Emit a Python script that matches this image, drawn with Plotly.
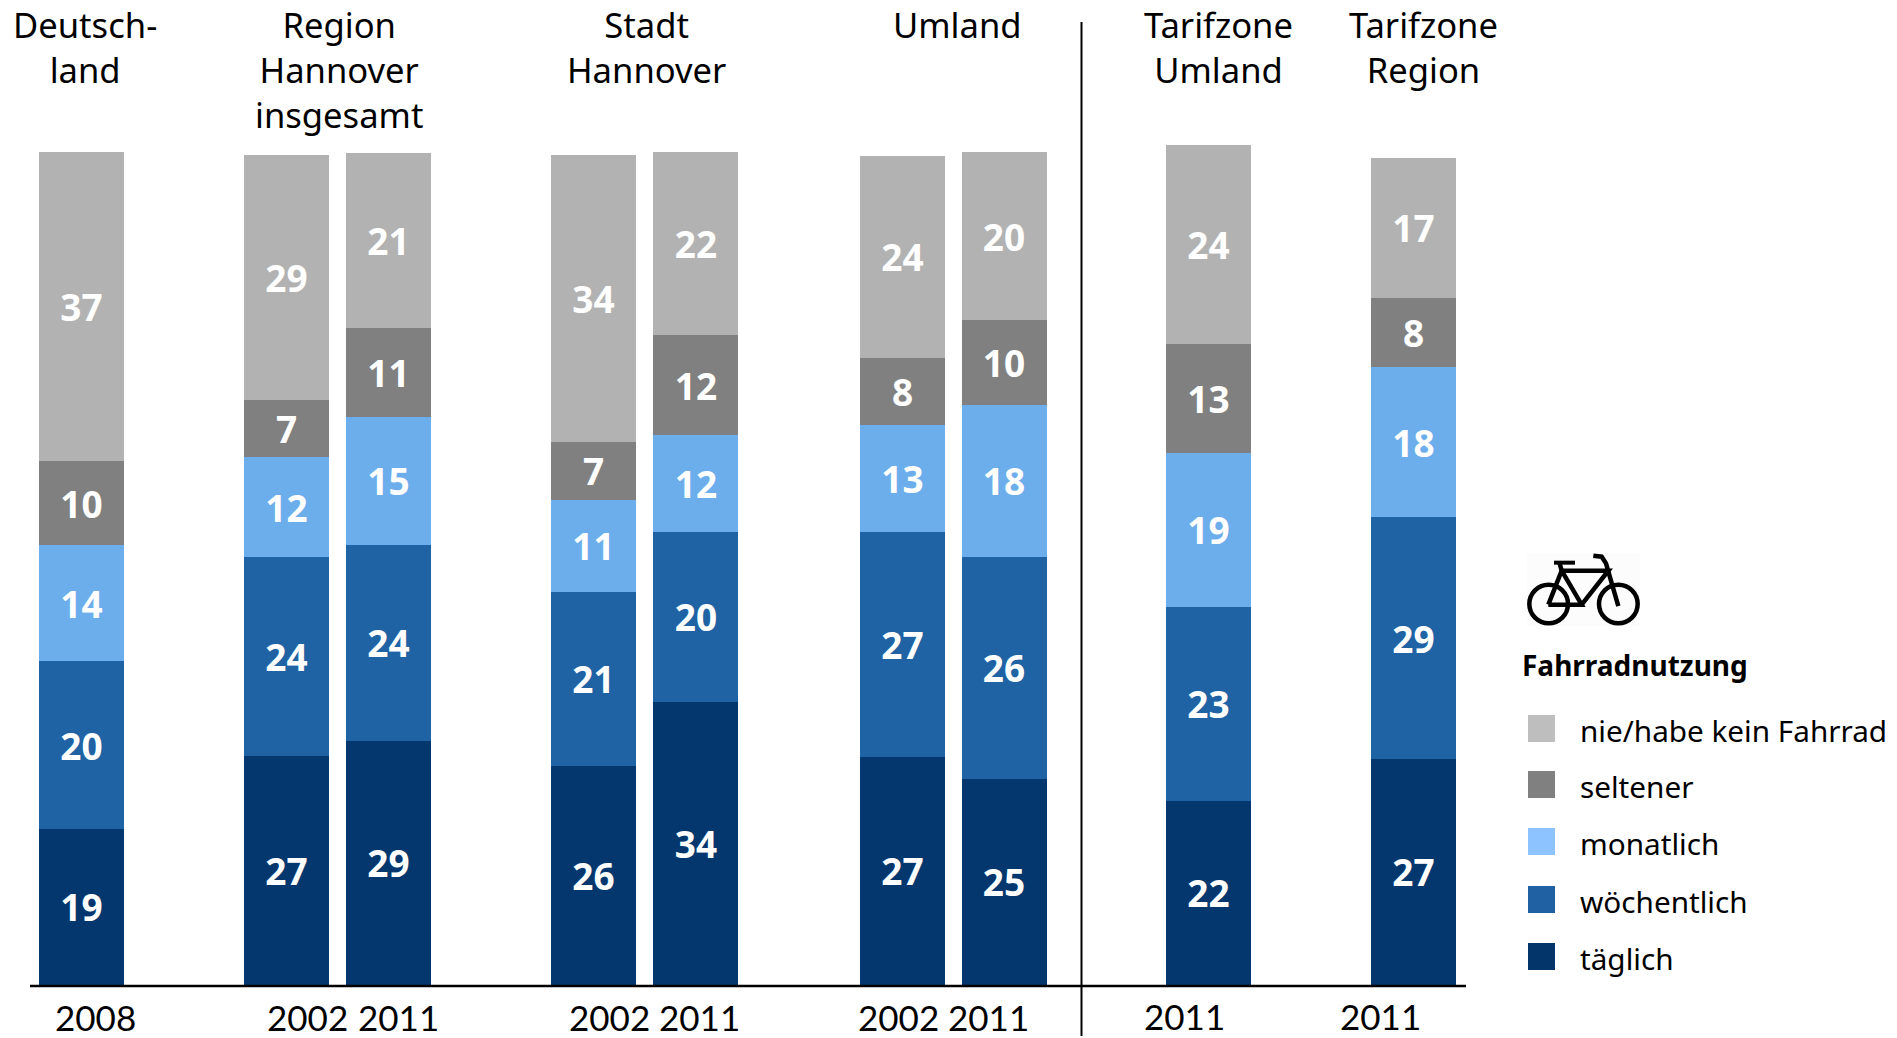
import plotly.graph_objects as go

W, H = 1897, 1038
FONT = "Noto Sans"

# Bar slots on a common axis (empty slots separate the groups)
slots = [0, 2, 2.995, 4.995, 5.995, 8.01, 9, 10.995, 12.995]
bar_names = ["Deutschland 2008", "Region 2002", "Region 2011", "Stadt 2002", "Stadt 2011",
             "Umland 2002", "Umland 2011", "Tarifzone Umland 2011", "Tarifzone Region 2011"]

# Segment heights
taeglich = [18.65, 27.47, 29.25, 26.3, 34.0, 27.3, 24.7, 22.1, 27.05]
woechentlich = [20.16, 23.9, 23.6, 20.9, 20.35, 27.1, 26.7, 23.3, 29.07]
monatlich = [14.0, 12.0, 15.3, 11.05, 11.63, 12.8, 18.2, 18.5, 18.1]
seltener = [10.03, 6.83, 10.72, 6.98, 12.06, 8.1, 10.2, 13.1, 8.3]
nie = [37.2, 29.5, 21.08, 34.4, 21.95, 24.3, 20.2, 23.85, 16.75]

# Printed labels
lab_taeglich = [19, 27, 29, 26, 34, 27, 25, 22, 27]
lab_woechentlich = [20, 24, 24, 21, 20, 27, 26, 23, 29]
lab_monatlich = [14, 12, 15, 11, 12, 13, 18, 19, 18]
lab_seltener = [10, 7, 11, 7, 12, 8, 10, 13, 8]
lab_nie = [37, 29, 21, 34, 22, 24, 20, 24, 17]

series = [
    ("täglich", taeglich, lab_taeglich, "#03376E", "#03356B"),
    ("wöchentlich", woechentlich, lab_woechentlich, "#1F63A4", "#1F61A3"),
    ("monatlich", monatlich, lab_monatlich, "#6CADEB", "#8DC4FF"),
    ("seltener", seltener, lab_seltener, "#808080", "#808080"),
    ("nie/habe kein Fahrrad", nie, lab_nie, "#B2B2B2", "#BEBEBE"),
]

# Axis scales
SLOT_PX, SLOT0_PX = 102.5, 81.5
UNIT_PX, BASE_PX = 8.323, 984.5
BAR_W = 85 / SLOT_PX


def px(x):
    return x / W


def py(y):
    return 1 - y / H


fig = go.Figure()
for name, vals, labs, col, _ in series:
    fig.add_trace(go.Bar(
        x=slots, y=vals, name=name, width=BAR_W, customdata=bar_names,
        marker=dict(color=col, line=dict(width=0)),
        text=[str(v) for v in labs], textposition="inside", insidetextanchor="middle",
        textangle=0, constraintext="none",
        textfont=dict(family=FONT, size=37, color="white", weight="bold"),
        showlegend=False,
    ))

ann = []


def text(x, y, s, size=34.6, weight="normal", xanchor="center", yanchor="middle", family=FONT):
    ann.append(dict(xref="paper", yref="paper", x=px(x), y=py(y), text=s, showarrow=False,
                    xanchor=xanchor, yanchor=yanchor, align="center", borderpad=0,
                    font=dict(family=family, size=size, color="black", weight=weight)))


# Group headings
headings = ["Deutsch-<br>land", "Region<br>Hannover<br>insgesamt", "Stadt<br>Hannover", "Umland",
            "Tarifzone<br>Umland", "Tarifzone<br>Region"]
heading_x = [85, 338.5, 646, 957, 1218, 1423]
for s, x in zip(headings, heading_x):
    text(x, 0, s, yanchor="top")

# Year labels
years = ["2008", "2002", "2011", "2002", "2011", "2002", "2011", "2011", "2011"]
year_x = [95.6, 307, 398, 609, 699, 898, 988, 1184, 1380]
year_y = [1017, 1017, 1017, 1017, 1017, 1017, 1017, 1016, 1016]
for s, x, y in zip(years, year_x, year_y):
    text(x, y, s, size=35, family="Lato")

# Legend
text(1521, 665, "Fahrradnutzung", size=28, weight="bold", xanchor="left")
leg_y = [728.5, 784.5, 841.5, 899.5, 956.5]
shapes = []
for (name, _, _, _, lcol), y in zip(reversed(series), leg_y):
    shapes.append(dict(type="rect", xref="paper", yref="paper", x0=px(1528), x1=px(1555),
                       y0=py(y - 13.5), y1=py(y + 13.5), fillcolor=lcol, line=dict(width=0)))
    text(1579, y + 2, name, size=29.7, xanchor="left")

# Baseline and separator
shapes.append(dict(type="line", xref="paper", yref="paper", x0=px(30), x1=px(1466), y0=py(986), y1=py(986),
                   line=dict(color="black", width=2.5)))
shapes.append(dict(type="line", xref="paper", yref="paper", x0=px(1081.5), x1=px(1081.5), y0=py(22), y1=py(1036),
                   line=dict(color="black", width=2)))


# Bicycle icon
def icon_x(z):
    return 1480 + z / 3


def icon_y(z):
    return 530 + z / 3


def polyline(points, width=4.5):
    d = "M " + " L ".join(f"{px(icon_x(a)):.5f},{py(icon_y(b)):.5f}" for a, b in points)
    shapes.append(dict(type="path", xref="paper", yref="paper", path=d,
                       line=dict(color="black", width=width)))


shapes.append(dict(type="rect", xref="paper", yref="paper", x0=px(icon_x(140)), x1=px(icon_x(480)),
                   y0=py(icon_y(70)), y1=py(icon_y(288)), fillcolor="#FCFCFC", line=dict(width=0)))
for cx in (206, 415):
    shapes.append(dict(type="circle", xref="paper", yref="paper",
                       x0=px(icon_x(cx - 58)), x1=px(icon_x(cx + 58)),
                       y0=py(icon_y(222 - 58)), y1=py(icon_y(222 + 58)),
                       line=dict(color="black", width=4.5)))
polyline([(205, 224), (305, 224), (245, 122), (205, 224)])
polyline([(245, 122), (385, 122), (305, 224)])
polyline([(245, 122), (238, 97)])
polyline([(222, 98), (285, 98)], width=4)
polyline([(340, 77), (365, 80), (378, 100), (415, 228)])

fig.update_layout(
    width=W, height=H, margin=dict(l=0, r=0, t=0, b=0), autosize=False,
    barmode="stack", plot_bgcolor="white", paper_bgcolor="white",
    annotations=ann, shapes=shapes,
    xaxis=dict(range=[-SLOT0_PX / SLOT_PX, (W - SLOT0_PX) / SLOT_PX], visible=False, fixedrange=True),
    yaxis=dict(range=[-(H - BASE_PX) / UNIT_PX, BASE_PX / UNIT_PX], visible=False, fixedrange=True),
    font=dict(family=FONT),
)

fig.write_html("out.html", config={"displayModeBar": False},
               post_script="document.body.style.margin='0';document.body.style.overflow='hidden';")
